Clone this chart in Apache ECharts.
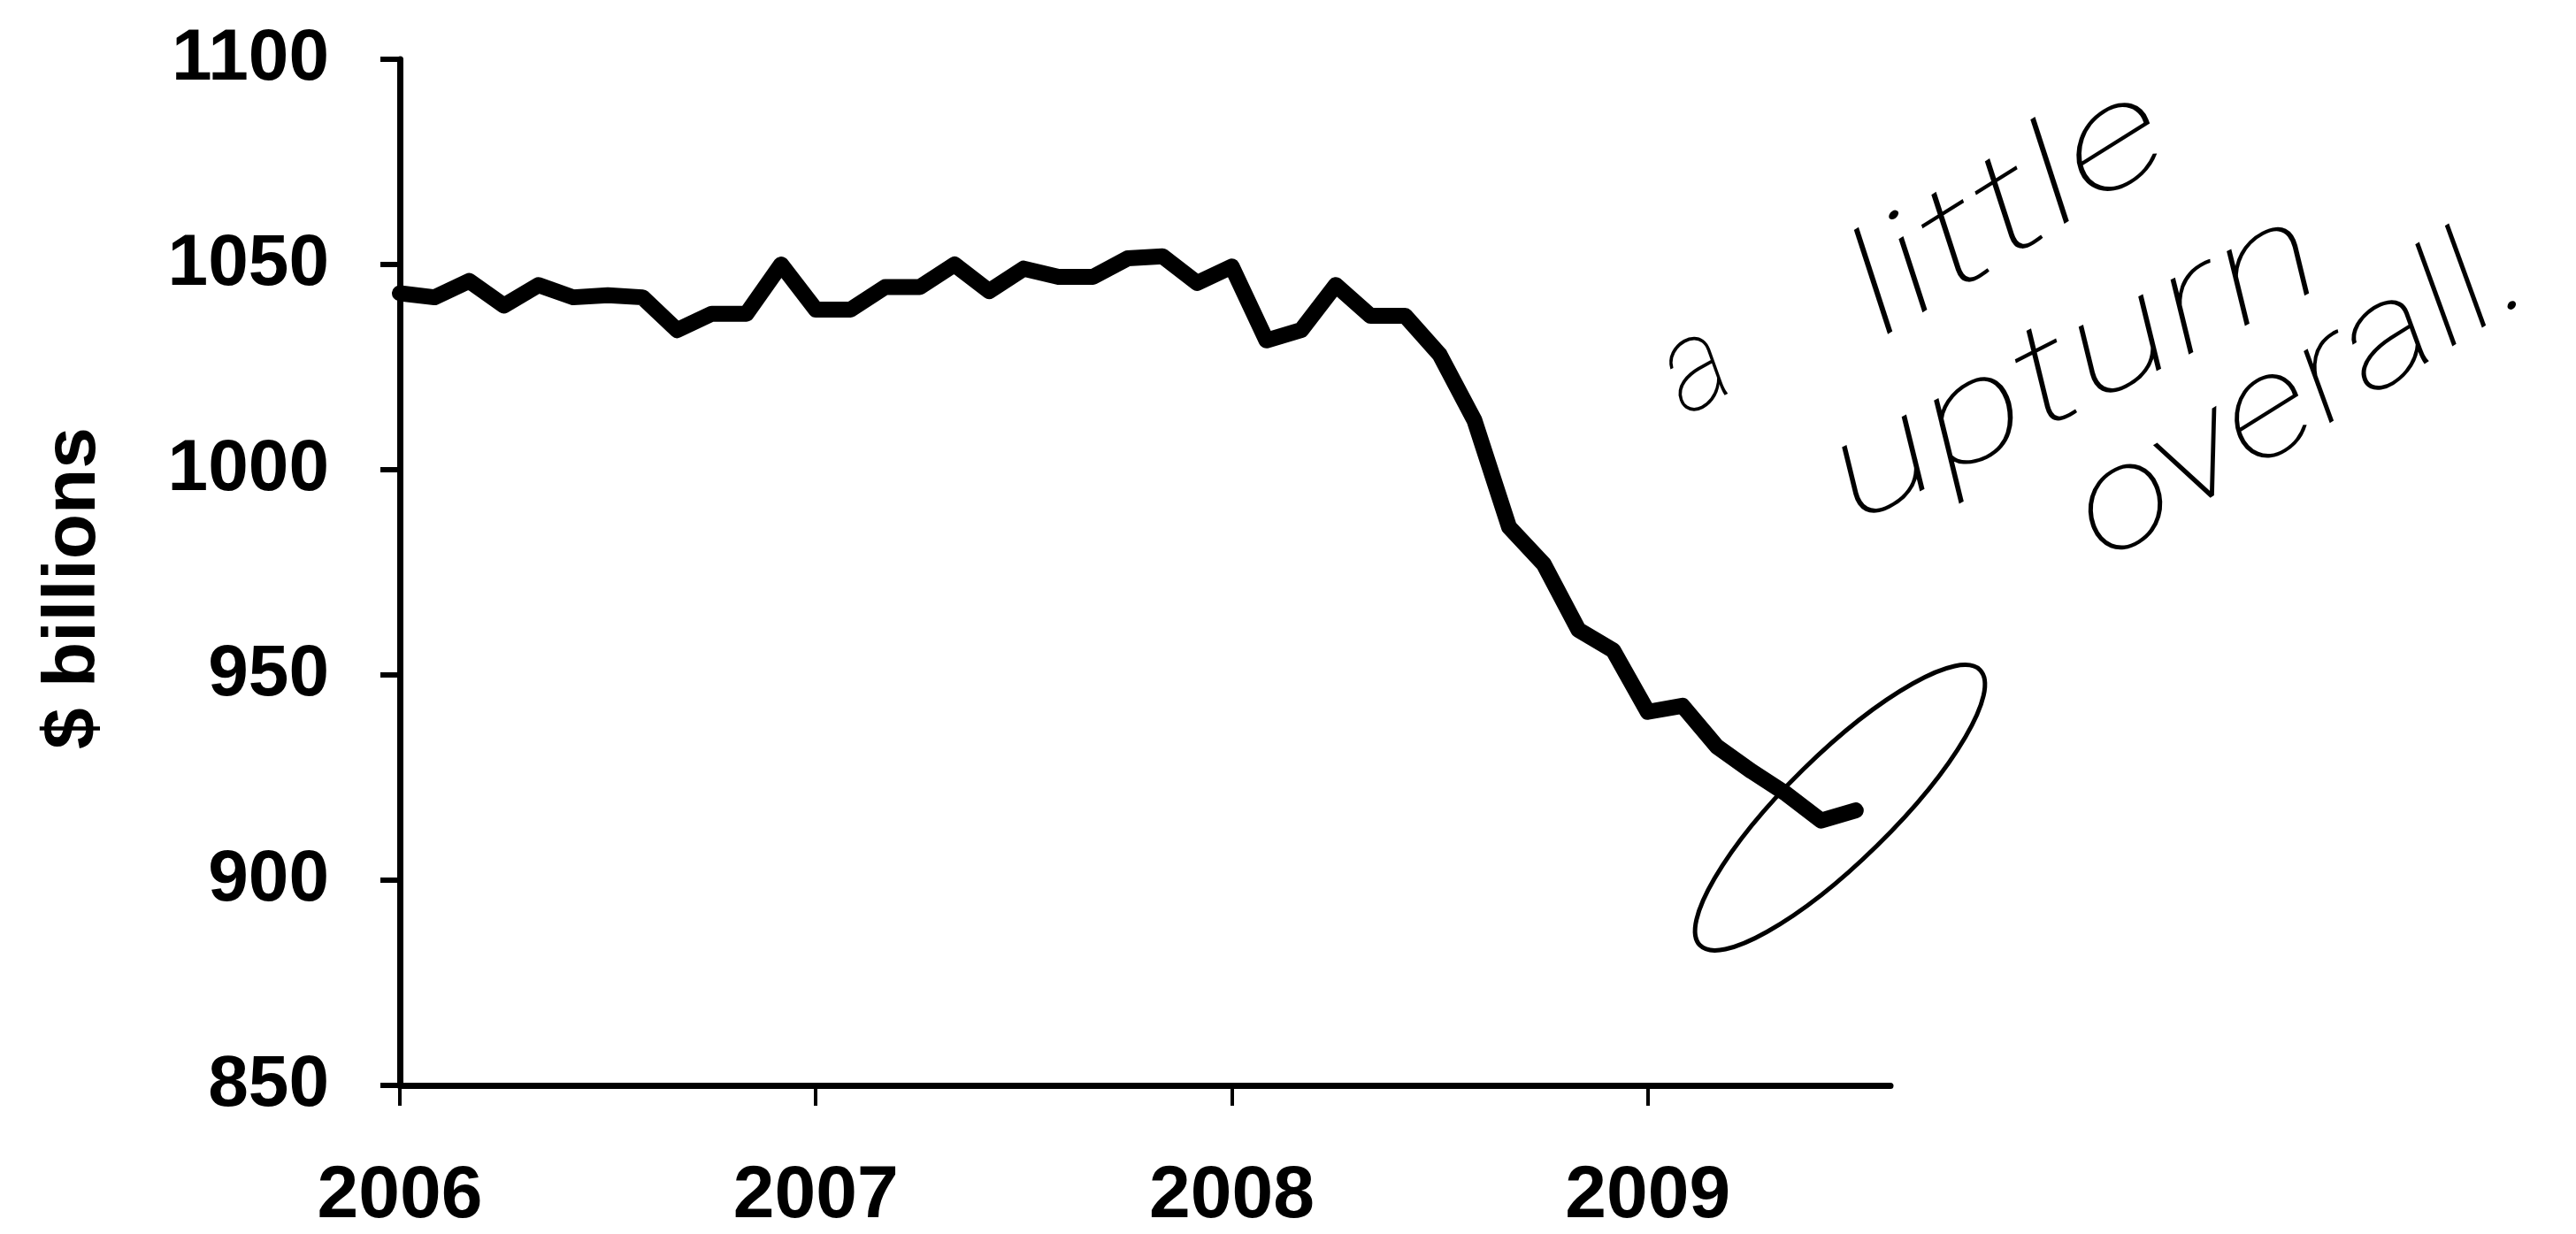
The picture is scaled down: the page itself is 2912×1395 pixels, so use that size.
<!DOCTYPE html>
<html>
<head>
<meta charset="utf-8">
<title>$ billions</title>
<script src="https://cdn.jsdelivr.net/npm/echarts@6/dist/echarts.min.js"></script>
<style>
  html, body { margin: 0; padding: 0; background: #fff; }
  #chart { width: 2912px; height: 1395px; }
</style>
</head>
<body>
<div id="chart"></div>
<script>
// 年份和月份 (x 轴从 2006-01 到 2009-08)
const years = ['2006', '2007', '2008', '2009'];
const months = ['01', '02', '03', '04', '05', '06', '07', '08', '09', '10', '11', '12'];
const lastMonth = '2009-08';

// 每年的月度数值 ($ billions)
const values2006 = [1043, 1042, 1046, 1040, 1045, 1042, 1042.5, 1042, 1034, 1038, 1038, 1050];
const values2007 = [1039, 1039, 1044.5, 1044.5, 1050, 1043.5, 1049, 1047, 1047, 1051.5, 1052, 1045.5];
const values2008 = [1049.5, 1031.5, 1034, 1045, 1037.5, 1037.5, 1028, 1012, 986, 977, 961, 956];
const values2009 = [941, 942.5, 932.5, 926.5, 921, 914.5, 917];

// y 轴刻度
const yMin = 850;
const yMax = 1100;
const yStep = 50;

// 手写批注
const noteWords = ['a', 'little', 'upturn', 'overall.'];

const categories = [];
for (const y of years) {
  for (const m of months) {
    const c = y + '-' + m;
    if (c > lastMonth) break;
    categories.push(c);
  }
}
const values = [].concat(values2006, values2007, values2008, values2009);

const chart = echarts.init(document.getElementById('chart'), null, { renderer: 'canvas' });

const labelFont = {
  fontFamily: 'Liberation Sans, Arial, sans-serif',
  fontWeight: 'bold',
  color: '#000'
};

// 手写文字: 基线起点 (bx, by), 角度, 横向/纵向拉伸
const handSize = 160;
const hand = (text, bx, by, deg, sx, sy) => {
  const r = deg * Math.PI / 180;
  const d = 0.2 * handSize * (sy || 1);
  return {
    type: 'text',
    x: bx + d * Math.sin(r),
    y: by + d * Math.cos(r),
    rotation: r,
    scaleX: sx,
    scaleY: sy || 1,
    style: {
      text: text,
      fontFamily: 'Roboto, sans-serif',
      fontWeight: 100,
      fontStyle: 'italic',
      fontSize: handSize,
      fill: '#000',
      align: 'left',
      verticalAlign: 'bottom'
    },
    silent: true
  };
};

const option = {
  animation: false,
  backgroundColor: '#fff',
  grid: { left: 452, right: 775, top: 67, bottom: 161, containLabel: false },
  xAxis: {
    type: 'category',
    data: categories,
    boundaryGap: false,
    axisLine: { lineStyle: { color: '#000', width: 7 } },
    axisTick: {
      show: true,
      inside: false,
      length: 23,
      interval: (idx) => idx % 12 === 0,
      lineStyle: { color: '#000', width: 4 }
    },
    axisLabel: {
      ...labelFont,
      fontSize: 84,
      margin: 84,
      interval: (idx) => idx % 12 === 0,
      formatter: (v) => v.slice(0, 4)
    },
    splitLine: { show: false }
  },
  yAxis: {
    type: 'value',
    min: yMin,
    max: yMax,
    interval: yStep,
    name: '$ billions',
    nameLocation: 'middle',
    nameGap: 326,
    nameTextStyle: { ...labelFont, fontSize: 84, padding: [0, 36, 0, 0] },
    axisLine: { show: true, lineStyle: { color: '#000', width: 7 } },
    axisTick: { show: true, inside: false, length: 22, lineStyle: { color: '#000', width: 6 } },
    axisLabel: { ...labelFont, fontSize: 82, margin: 80, formatter: (v) => String(v) },
    splitLine: { show: false }
  },
  series: [{
    type: 'line',
    data: values,
    symbol: 'none',
    lineStyle: { color: '#000', width: 18, cap: 'round', join: 'round' }
  }],
  graphic: [
    // 圈住最后几个点的椭圆
    {
      type: 'ellipse',
      x: 2080,
      y: 913,
      rotation: 44.5 * Math.PI / 180,
      shape: { cx: 0, cy: 0, rx: 222, ry: 60 },
      style: { fill: 'none', stroke: '#000', lineWidth: 5 },
      silent: true
    },
    hand(noteWords[0], 1910, 477, 29, 0.85, 0.9),
    hand(noteWords[1], 2131, 389, 32, 1.45),
    hand(noteWords[2], 2101, 600, 27, 1.37),
    hand(noteWords[3], 2385, 643, 32, 1.24)
  ]
};

chart.setOption(option);
</script>
</body>
</html>
